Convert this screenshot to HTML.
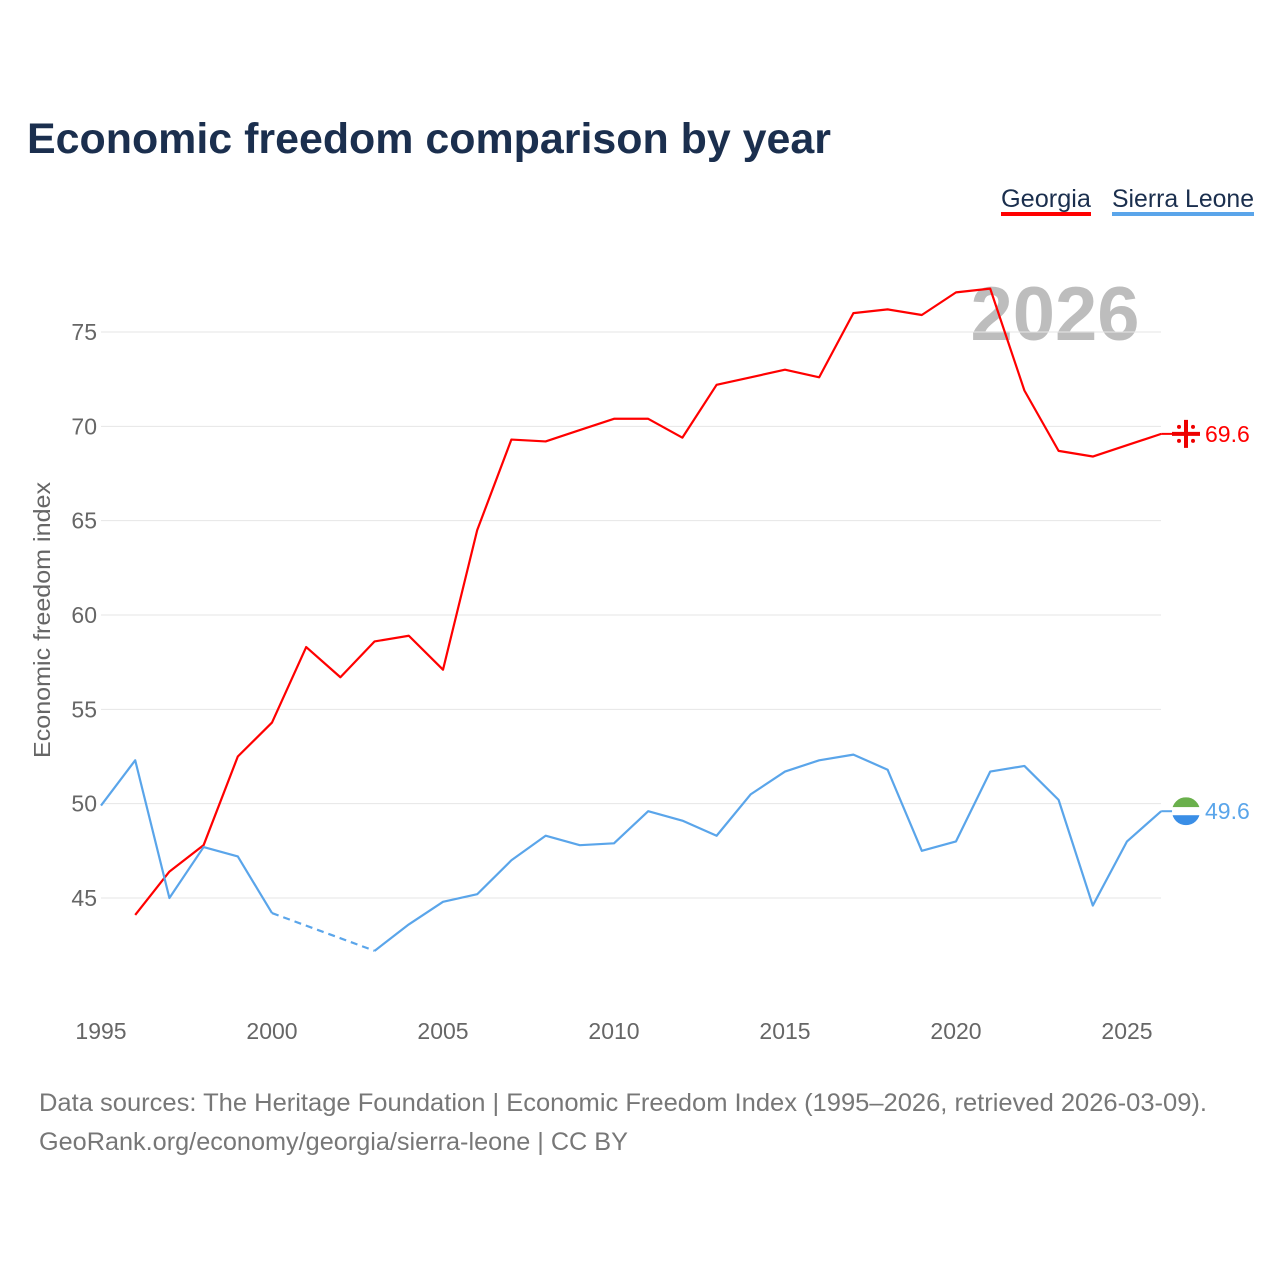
<!DOCTYPE html>
<html><head><meta charset="utf-8"><style>
body{margin:0;background:#fff;font-family:"Liberation Sans",sans-serif;}
svg text{font-family:"Liberation Sans",sans-serif;}
</style></head><body>
<svg id="chart" width="1280" height="1280" xmlns="http://www.w3.org/2000/svg">
<text x="27" y="153" font-size="43" font-weight="bold" fill="#1b2f4e" textLength="804" lengthAdjust="spacingAndGlyphs">Economic freedom comparison by year</text>
<g>
<text x="1001" y="207" font-size="25" fill="#1b2f4e" textLength="90" lengthAdjust="spacingAndGlyphs">Georgia</text>
<rect x="1001" y="212" width="90" height="4" fill="#ff0000"/>
<text x="1112" y="207" font-size="25" fill="#1b2f4e" textLength="142" lengthAdjust="spacingAndGlyphs">Sierra Leone</text>
<rect x="1112" y="212" width="142" height="4" fill="#5aa5ea"/>
</g>
<text x="1055" y="340" font-size="76" font-weight="bold" fill="#bdbdbd" text-anchor="middle">2026</text>
<g id="grid"></g><g id="axes"></g><g id="series"></g>
<text transform="translate(50,620) rotate(-90)" font-size="23" fill="#666" text-anchor="middle" textLength="276" lengthAdjust="spacingAndGlyphs">Economic freedom index</text>
<text x="39" y="1111" font-size="25" fill="#777" textLength="1168" lengthAdjust="spacingAndGlyphs">Data sources: The Heritage Foundation | Economic Freedom Index (1995–2026, retrieved 2026-03-09).</text>
<text x="39" y="1150" font-size="25" fill="#777" textLength="589" lengthAdjust="spacingAndGlyphs">GeoRank.org/economy/georgia/sierra-leone | CC BY</text>
</svg>
<script>
const years=[1995,1996,1997,1998,1999,2000,2001,2002,2003,2004,2005,2006,2007,2008,2009,2010,2011,2012,2013,2014,2015,2016,2017,2018,2019,2020,2021,2022,2023,2024,2025,2026];
const georgia=[null,44.1,46.4,47.8,52.5,54.3,58.3,56.7,58.6,58.9,57.1,64.5,69.3,69.2,69.8,70.4,70.4,69.4,72.2,72.6,73.0,72.6,76.0,76.2,75.9,77.1,77.3,71.9,68.7,68.4,69.0,69.6];
const sierraLeone=[49.9,52.3,45.0,47.7,47.2,44.2,null,null,42.2,43.6,44.8,45.2,47.0,48.3,47.8,47.9,49.6,49.1,48.3,50.5,51.7,52.3,52.6,51.8,47.5,48.0,51.7,52.0,50.2,44.6,48.0,49.6];
const yTicks=[45,50,55,60,65,70,75];
const xTicks=[1995,2000,2005,2010,2015,2020,2025];
const NS="http://www.w3.org/2000/svg";
const x=v=>101+(v-1995)*(1026/30);
const y=v=>898-(v-45)*(566/30);
function mk(tag,attrs,parent){const e=document.createElementNS(NS,tag);for(const k in attrs)e.setAttribute(k,attrs[k]);parent.appendChild(e);return e;}
const grid=document.getElementById('grid'),axes=document.getElementById('axes'),ser=document.getElementById('series');
yTicks.forEach(t=>{
 const l=mk('line',{x1:101,x2:1161,y1:y(t),y2:y(t),stroke:'#e6e6e6','stroke-width':1},grid);
 
 
 const tx=mk('text',{x:97,y:y(t)+8,'font-size':23,fill:'#666','text-anchor':'end'},axes);
 tx.textContent=t;
 
 
});
xTicks.forEach(t=>{
 const tx=mk('text',{x:x(t),y:1039,'font-size':23,fill:'#666','text-anchor':'middle'},axes);
 tx.textContent=t;
 
 
});
function drawSeries(vals,color,name){
 let segs=[],cur=[];
 vals.forEach((v,i)=>{if(v==null){if(cur.length)segs.push(cur);cur=[];}else cur.push([x(years[i]),y(v)]);});
 if(cur.length)segs.push(cur);
 segs.forEach((s,k)=>{
  const p=mk('polyline',{points:s.map(q=>q.join(',')).join(' '),fill:'none',stroke:color,'stroke-width':2.2,'stroke-linejoin':'round'},ser);
  
  
  if(k>0){const a=segs[k-1][segs[k-1].length-1],b=s[0];
   const d=mk('line',{x1:a[0],y1:a[1],x2:b[0],y2:b[1],stroke:color,'stroke-width':2.2,'stroke-dasharray':'7,5'},ser);
   
   }
 });
 const last=vals[vals.length-1];
 const lx=x(years[years.length-1]),ly=y(last);
 const ln=mk('line',{x1:lx,y1:ly,x2:lx+14,y2:ly,stroke:color,'stroke-width':2},ser);
 
 
 const t=mk('text',{x:1205,y:ly+8,'font-size':23,fill:color},ser);
 t.textContent=last.toFixed(1);
 
 
 return [1186,ly];
}
const g=drawSeries(georgia,'#ff0000','georgia');
const s=drawSeries(sierraLeone,'#5aa5ea','sierra-leone');
const gf=mk('g',{},ser);


mk('circle',{cx:g[0],cy:g[1],r:14,fill:'#fff'},gf);
mk('rect',{x:g[0]-14,y:g[1]-2,width:28,height:4,fill:'#e00'},gf);
mk('rect',{x:g[0]-2,y:g[1]-14,width:4,height:28,fill:'#e00'},gf);
[[-7,-7],[7,-7],[-7,7],[7,7]].forEach(d=>mk('circle',{cx:g[0]+d[0],cy:g[1]+d[1],r:2,fill:'#e00'},gf));
const sf=mk('g',{},ser);


mk('defs',{},sf).innerHTML='<clipPath id="slc"><circle cx="'+s[0]+'" cy="'+s[1]+'" r="14"/></clipPath>';
mk('rect',{x:s[0]-14,y:s[1]-14,width:28,height:10,fill:'#6ab04c','clip-path':'url(#slc)'},sf);
mk('rect',{x:s[0]-14,y:s[1]-4,width:28,height:8,fill:'#fff','clip-path':'url(#slc)'},sf);
mk('rect',{x:s[0]-14,y:s[1]+4,width:28,height:10,fill:'#3a8ee6','clip-path':'url(#slc)'},sf);
</script>
</body></html>
